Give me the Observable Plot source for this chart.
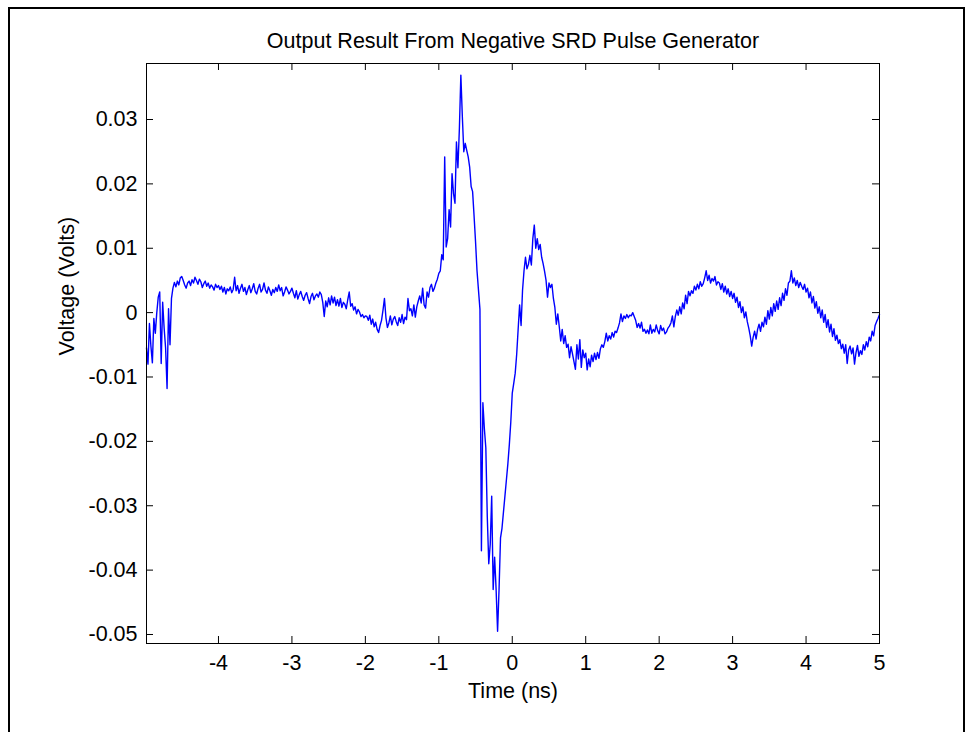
<!DOCTYPE html>
<html>
<head>
<meta charset="utf-8">
<script src="https://cdn.jsdelivr.net/npm/d3@7"></script>
<script src="https://cdn.jsdelivr.net/npm/@observablehq/plot@0.6"></script>
<style>
  html, body { margin: 0; padding: 0; background: #fff; overflow: hidden; }
  #wrap { position: relative; width: 973px; height: 732px; }
  #border { position: absolute; left: 8px; top: 7px; width: 953px; height: 760px;
            border: 2px solid #000; border-bottom: none; pointer-events: none; }
</style>
</head>
<body>
<div id="wrap"><div id="chart"></div><div id="border"></div></div>
<script>
// ---- data ----
const title = "Output Result From Negative SRD Pulse Generator";
const xLabel = "Time (ns)";
const yLabel = "Voltage (Volts)";
const xTicks = [-4, -3, -2, -1, 0, 1, 2, 3, 4, 5];
const xTickLabels = ["-4", "-3", "-2", "-1", "0", "1", "2", "3", "4", "5"];
const yTicks = [-0.05, -0.04, -0.03, -0.02, -0.01, 0, 0.01, 0.02, 0.03];
const yTickLabels = ["-0.05", "-0.04", "-0.03", "-0.02", "-0.01", "0", "0.01", "0.02", "0.03"];
const xDomain = [-4.98, 5.0];
const yDomain = [-0.0514, 0.0387];
// sampled time base: first sample and sample spacing (ns)
const tStart = -4.98;
const tStep = 0.02;
// measured voltage, in millivolts, one value per sample
const voltage_mV = [
  -5.5, -8, -1.7, -5.2, -7.8, -0.9, -3.2, 0, 2.4, 3.2,
  -7.9, 1.6, -2.4, -5.5, -11.8, 0.6, -5, 2.2, 3.8, 4.7,
  4.0, 4.9, 4.3, 5.4, 5.6, 5.0, 4.3, 3.8, 4.6, 4.9,
  4.2, 5.1, 4.6, 5.5, 5.0, 4.4, 5.2, 4.8, 3.9, 4.5,
  4.9, 4.1, 4.6, 3.8, 4.3, 4.0, 3.5, 4.4, 3.9, 4.2,
  3.6, 4.1, 3.2, 3.9, 2.9, 3.7, 3.4, 4.0, 3.1, 3.6,
  5.5, 3.4, 4.2, 3.0, 3.8, 4.4, 3.3, 3.9, 2.8, 3.6,
  4.2, 3.1, 3.7, 4.5, 3.3, 2.9, 3.8, 4.4, 3.2, 3.6,
  4.6, 3.5, 3.0, 4.0, 3.4, 2.7, 3.6, 3.1, 3.9, 3.3,
  4.3, 3.4, 3.9, 2.6, 3.2, 4.0, 3.5, 2.9, 3.3, 3.8,
  3.0, 2.3, 3.4, 2.1, 2.8, 3.3, 2.5, 1.9, 2.7, 3.1,
  2.2, 1.4, 2.5, 3.0, 2.0, 2.6, 2.9, 2.4, 3.2, 2.8,
  1.6, -0.6, 1.8, 0.9, 2.3, 1.2, 2.6, 1.5, 2.4, 1.1,
  2.0, 1.0, 2.2, 0.8, 1.6, 1.3, 0.6, 2.0, 3.2, 1.0,
  1.4, 0.4, 0.9, -0.2, 0.5, 0.1, -0.6, -0.3, -0.8, -0.5,
  -0.6, -1.2, -0.4, -1.8, -1.0, -2.2, -1.5, -2.6, -3.1, -2.0,
  -1.2, 0.4, 2.2, -0.8, -2.3, -1.6, -0.5, -1.9, -1.0, -0.6,
  -1.4, -2.0, -0.8, -1.5, -0.3, -1.7, -0.7, -1.1, 2.2, 0.3,
  0.6, -0.5, 1.2, -0.7, 0.9, 1.8, 2.6, 1.5, 3.8, 1.2,
  0.7, 3.2, 2.4, 3.9, 4.4, 3.3, 3.8, 4.6, 5.2, 6.1,
  6.5, 9.0, 8.2, 24.2, 10.2, 11.5, 16.0, 13.3, 21.6, 18.5,
  17.0, 26.5, 22.5, 28.6, 36.9, 30.5, 25.0, 26.3, 25.2, 24.2,
  22.6, 19.6, 18.8, 15.0, 11.0, 6.5, 3.5, 0.5, -37.0, -14.0,
  -18.0, -21.0, -31.8, -39.0, -36.0, -28.5, -43.0, -38.0, -43.0, -49.5,
  -43.0, -35.0, -33.5, -31.0, -28.5, -26.0, -23.5, -20.5, -17.0, -12.5,
  -11.0, -9.4, -6.5, -2.6, 1.2, -2.0, 3.5, 6.5, 8.6, 6.8,
  7.5, 8.9, 7.4, 11.5, 13.6, 10.0, 11.5, 9.8, 10.6, 8.6,
  7.6, 6.4, 5.0, 2.4, 4.6, 3.9, 4.4, 2.2, 0.8, -1.8,
  -0.2, -2.2, -4.4, -2.6, -4.8, -3.6, -5.4, -4.9, -7.0, -5.3,
  -6.4, -7.6, -8.8, -5.0, -7.2, -4.2, -8.5, -5.8, -7.0, -6.3,
  -8.9, -7.2, -8.4, -6.6, -7.6, -6.3, -7.3, -6.2, -7.1, -5.6,
  -5.0, -5.4, -4.5, -3.2, -4.4, -3.6, -4.1, -3.1, -3.8, -2.9,
  -3.1, -2.4, -1.6, -0.2, -1.4, -0.5, -0.9, -0.3, -0.8, -0.4,
  -0.5, 0.0, -0.6, -1.2, -2.3, -1.7, -2.4, -1.5, -2.9, -2.6,
  -3.2, -2.7, -3.3, -1.9, -3.2, -2.6, -3.0, -1.9, -2.8, -3.3,
  -2.0, -2.8, -2.4, -3.3, -3.0, -2.4, -2.1, -1.6, -0.5, -2.2,
  -0.6, 0.4, -0.4, 0.9, -0.2, 1.5, 0.6, 2.7, 1.4, 3.3,
  2.6, 3.4, 3.0, 4.1, 3.5, 4.4, 3.7, 4.8, 4.1, 4.5,
  5.4, 6.5, 5.0, 5.8, 4.6, 5.3, 4.9, 5.6, 4.3, 4.8,
  4.6, 3.6, 4.5, 3.2, 4.1, 2.9, 3.7, 2.5, 3.3, 2.2,
  3.0, 1.6, 2.4, 0.8, 1.7, 0.0, 0.9, -0.8, 0.1, -1.4,
  -2.4, -3.6, -5.2, -3.8, -2.9, -4.1, -2.6, -1.8, -2.9, -1.5,
  -2.2, -0.7, -1.8, 0.3, -1.0, 0.8, -0.5, 1.4, 0.2, 1.8,
  0.5, 2.3, 1.1, 3.0, 1.9, 3.7, 2.7, 4.6, 4.9, 6.5,
  4.6, 5.4, 4.2, 5.0, 3.9, 4.7, 4.1, 3.6, 4.4, 3.2,
  3.8, 2.3, 3.2, 1.5, 2.5, 0.7, 1.7, -0.1, 0.9, -0.8,
  0.4, -1.5, -0.3, -2.3, -1.1, -3.0, -1.8, -3.7, -2.5, -4.3,
  -3.5, -4.8, -4.2, -5.6, -4.9, -6.3, -5.0, -7.9, -5.8, -5.2,
  -6.4, -5.5, -8.0, -6.2, -5.1, -6.8, -5.9, -6.5, -5.0, -5.8,
  -4.5, -5.3, -3.8, -4.4, -2.9, -3.6, -2.0, -1.4, -0.9, -0.3
];

// ---- table for the library ----
const samples = voltage_mV.map((mv, i) => ({t: tStart + i * tStep, v: mv / 1000}));

// ---- layout ----
const W = 973, H = 732;
const mL = 146, mR = 94, mT = 63, mB = 89;
const plotW = W - mL - mR, plotH = H - mT - mB;
const tickLen = 7;
const FONT = "'Liberation Sans', Arial, Helvetica, sans-serif";
const FS = 21.5;

const chart = Plot.plot({
  width: W,
  height: H,
  marginLeft: mL, marginRight: mR, marginTop: mT, marginBottom: mB,
  style: {fontFamily: FONT, fontSize: FS + "px", color: "#000", background: "transparent", overflow: "visible"},
  x: {domain: xDomain, ticks: xTicks, tickSize: 0, tickPadding: 11,
      tickFormat: d => xTickLabels[xTicks.indexOf(d)], label: null},
  y: {domain: yDomain, ticks: yTicks, tickSize: 0, tickPadding: 9,
      tickFormat: d => yTickLabels[yTicks.findIndex(t => Math.abs(t - d) < 1e-9)], label: null},
  marks: [
    Plot.line(samples, {x: "t", y: "v", stroke: "#0000ff", strokeWidth: 1.4}),
    Plot.frame({stroke: "#000", strokeWidth: 1}),
    Plot.ruleX(xTicks, {x: d => d, insetTop: plotH - tickLen, stroke: "#000"}),
    Plot.ruleX(xTicks, {x: d => d, insetBottom: plotH - tickLen, stroke: "#000"}),
    Plot.ruleY(yTicks, {y: d => d, insetRight: plotW - tickLen, stroke: "#000"}),
    Plot.ruleY(yTicks, {y: d => d, insetLeft: plotW - tickLen, stroke: "#000"}),
    Plot.text([title], {frameAnchor: "top", lineAnchor: "bottom", dy: -16, fontSize: FS, fill: "#000"}),
    Plot.text([xLabel], {frameAnchor: "bottom", lineAnchor: "bottom", dy: 54, fontSize: FS, fill: "#000"}),
    Plot.text([yLabel], {frameAnchor: "left", lineAnchor: "bottom", rotate: -90, dx: -73, dy: 2, fontSize: FS, fill: "#000"})
  ]
});
document.getElementById("chart").appendChild(chart);
</script>
</body>
</html>
